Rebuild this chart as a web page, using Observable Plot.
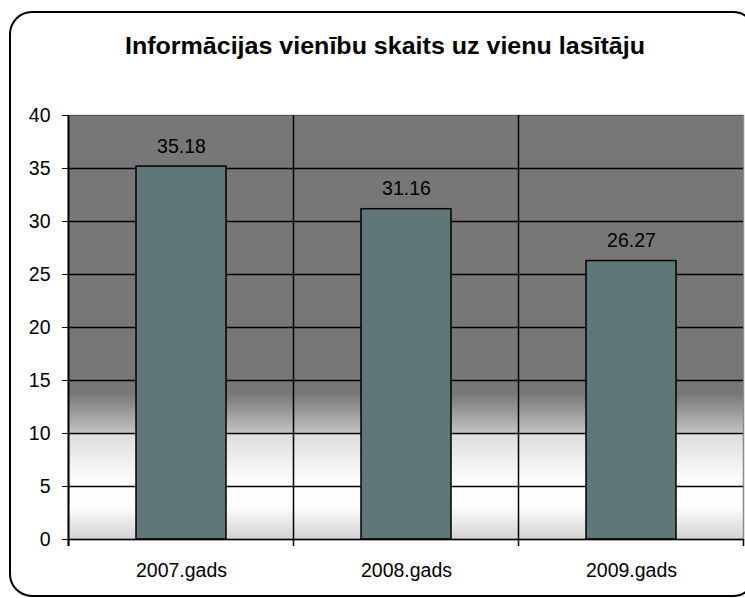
<!DOCTYPE html>
<html>
<head>
<meta charset="utf-8">
<script src="https://cdn.jsdelivr.net/npm/d3@7"></script>
<script src="https://cdn.jsdelivr.net/npm/@observablehq/plot@0.6"></script>
<style>
  html, body { margin: 0; padding: 0; background: white; }
</style>
</head>
<body>
<div id="chart"></div>
<script>
const title = "Informācijas vienību skaits uz vienu lasītāju";
const categories = ["2007.gads", "2008.gads", "2009.gads"];
const values = [35.18, 31.16, 26.27];
const yTicks = [0, 5, 10, 15, 20, 25, 30, 35, 40];

const data = categories.map((c, i) => ({cat: c, v: values[i]}));
const font = "'Liberation Sans', Arial, sans-serif";

const plot = Plot.plot({
  width: 745,
  height: 598,
  marginTop: 115,
  marginBottom: 59,
  marginLeft: 68,
  marginRight: 2,
  style: {fontFamily: font, fontSize: "19.5px", background: "white", color: "black"},
  x: {domain: categories, paddingInner: 0.6, paddingOuter: 0.3, label: null, tickSize: 0, tickPadding: 24},
  y: {domain: [0, 40], ticks: yTicks, label: null, tickSize: 6, tickPadding: 12},
  marks: [
    Plot.frame({fill: "url(#bg)", stroke: "#8a8a8a", strokeWidth: 1.5}),
    Plot.ruleY(yTicks.filter(t => t > 0 && t < 40), {stroke: "black", strokeWidth: 1.5}),
    Plot.ruleY([40], {stroke: "#555", strokeWidth: 1}),
    Plot.barY(data, {x: "cat", y: "v", fill: "#5f7777", stroke: "black", strokeWidth: 1.5}),
    Plot.text(data, {x: "cat", y: "v", text: d => d.v.toFixed(2), dy: -14, lineAnchor: "bottom", fontSize: 19.5, fill: "black"}),
    Plot.ruleY([0], {stroke: "black", strokeWidth: 1.5})
  ]
});

const svg = d3.select(plot);
const defs = svg.insert("defs", ":first-child");
const grad = defs.append("linearGradient").attr("id", "bg")
  .attr("x1", 0).attr("y1", 0).attr("x2", 0).attr("y2", 1);
[[0, "#777777"], [0.655, "#777777"], [0.745, "#c0c0c0"], [0.752, "#dddddd"],
 [0.86, "#fcfcfc"], [0.92, "#ffffff"], [1, "#d2d2d2"]].forEach(([o, c]) =>
  grad.append("stop").attr("offset", o).attr("stop-color", c));

const xs = plot.scale("x");
const ys = plot.scale("y");
const gap = (xs.step - xs.bandwidth) / 2;
const bounds = categories.map(c => xs.apply(c) - gap);
bounds.push(xs.apply(categories[categories.length - 1]) + xs.bandwidth + gap);
const y0 = ys.apply(0), y40 = ys.apply(40);

const g = svg.append("g").attr("stroke", "black");
// vertical gridlines between categories
bounds.slice(1, -1).forEach(b => {
  g.append("line").attr("x1", b).attr("x2", b).attr("y1", y40).attr("y2", y0).attr("stroke-width", 1.5);
});
// x ticks at category boundaries
bounds.forEach(b => {
  g.append("line").attr("x1", b).attr("x2", b).attr("y1", y0).attr("y2", y0 + 7).attr("stroke-width", 1.5);
});
// left axis line
g.append("line").attr("x1", bounds[0]).attr("x2", bounds[0]).attr("y1", y40).attr("y2", y0 + 7).attr("stroke-width", 2);

// outer rounded frame
svg.append("rect").attr("x", 10).attr("y", 12).attr("width", 745).attr("height", 584)
  .attr("rx", 22).attr("ry", 22).attr("fill", "none").attr("stroke", "black").attr("stroke-width", 2);

// title
svg.append("text").attr("x", 385).attr("y", 54).attr("text-anchor", "middle")
  .attr("font-family", font).attr("font-weight", "bold").attr("font-size", 23.5)
  .attr("textLength", 520).attr("lengthAdjust", "spacingAndGlyphs")
  .attr("fill", "black").text(title);

document.getElementById("chart").appendChild(plot);
</script>
</body>
</html>
